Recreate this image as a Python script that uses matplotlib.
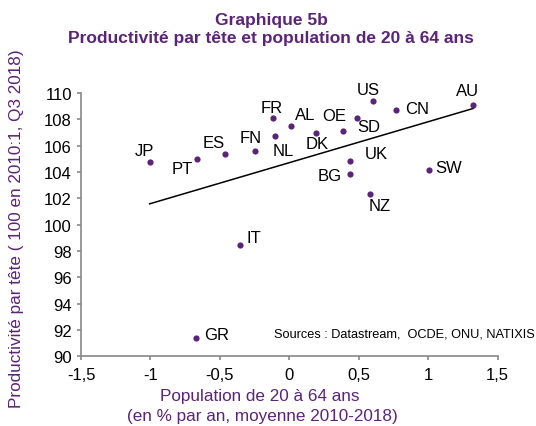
import matplotlib
matplotlib.use("Agg")
import matplotlib.pyplot as plt
import numpy as np

plt.rcParams['font.family'] = ['Liberation Sans', 'DejaVu Sans']

countries = ["JP", "PT", "ES", "FN", "NL", "FR", "AL", "DK", "OE", "SD",
             "US", "CN", "AU", "UK", "BG", "NZ", "SW", "IT", "GR"]
pop_growth = [-1.006, -0.662, -0.461, -0.250, -0.106, -0.120, 0.012, 0.190, 0.389, 0.485,
              0.605, 0.768, 1.325, 0.437, 0.437, 0.578, 1.006, -0.353, -0.672]
productivity = [104.74, 104.99, 105.35, 105.62, 106.74, 108.11, 107.48, 106.99, 107.12, 108.11,
                109.38, 108.74, 109.12, 104.86, 103.85, 102.36, 104.13, 98.48, 91.39]
xtick_vals = [-1.5, -1.0, -0.5, 0.0, 0.5, 1.0, 1.5]
xtick_labels = ["-1,5", "-1", "-0,5", "0", "0,5", "1", "1,5"]
ytick_vals = [90, 92, 94, 96, 98, 100, 102, 104, 106, 108, 110]

# label offsets in pixels (dx right, dy up)
label_offsets = {
    "JP": (-5, 12), "PT": (-15, -10), "ES": (-12, 12), "FN": (-4, 13),
    "NL": (9, -15), "FR": (-1, 10), "AL": (14, 12), "DK": (1, -11),
    "OE": (-9, 15), "SD": (12, -9), "US": (-5, 12), "CN": (21, 1),
    "AU": (-6, 14), "UK": (26, 7), "BG": (-20, -2), "NZ": (10, -12),
    "SW": (20, 3), "IT": (14, 7), "GR": (21, 4),
}

purple = "#5B2379"

fig = plt.figure(figsize=(5.36, 4.27), dpi=100)
ax = fig.add_axes([81/536, 1 - 357.3/427, (497.7-81)/536, (357.3-94)/427])

x = np.array(pop_growth)
y = np.array(productivity)
ax.scatter(x, y, s=20, color=purple, zorder=3, linewidths=0)

slope, intercept = np.polyfit(x, y, 1)
xl = np.array([x.min(), x.max()])
ax.plot(xl, slope*xl + intercept, color="black", lw=1.1, zorder=2)

for c, xi, yi in zip(countries, x, y):
    dx, dy = label_offsets[c]
    ax.annotate(c, (xi, yi), xytext=(dx, dy), textcoords="offset pixels",
                ha="center", va="center", fontsize=12, color="black")

ax.set_xlim(-1.5, 1.5)
ax.set_ylim(90, 110)
ax.set_xticks(xtick_vals)
ax.set_xticklabels(xtick_labels)
ax.set_yticks(ytick_vals)
ax.tick_params(axis="both", labelsize=12, colors="#888888", labelcolor="black",
               direction="out", length=3, width=1.2)
ax.tick_params(axis="x", pad=5)
ax.tick_params(axis="y", pad=3.5)
for s in ["top", "right"]:
    ax.spines[s].set_visible(False)
for s in ["left", "bottom"]:
    ax.spines[s].set_color("#888888")
    ax.spines[s].set_linewidth(1.2)

fig.text(535/536, 1 - 335/427, "Sources : Datastream,  OCDE, ONU, NATIXIS", fontsize=9.2,
         ha="right", va="center", color="black")

fig.text(271/536, 1 - 21/427, "Graphique 5b", ha="center", va="center",
         fontsize=12.5, fontweight="bold", color=purple)
fig.text(271/536, 1 - 39/427, "Productivité par tête et population de 20 à 64 ans",
         ha="center", va="center", fontsize=12.5, fontweight="bold", color=purple)

fig.text(260/536, 1 - 397/427, "Population de 20 à 64 ans", ha="center", va="center",
         fontsize=12.3, color=purple)
fig.text(262/536, 1 - 417/427, "(en % par an, moyenne 2010-2018)", ha="center", va="center",
         fontsize=12.3, color=purple)
fig.text(17/536, 1 - 229/427, "Productivité par tête ( 100 en 2010:1, Q3 2018)",
         ha="center", va="center", rotation=90, fontsize=12.3, color=purple)

fig.savefig("out.png", dpi=100)
